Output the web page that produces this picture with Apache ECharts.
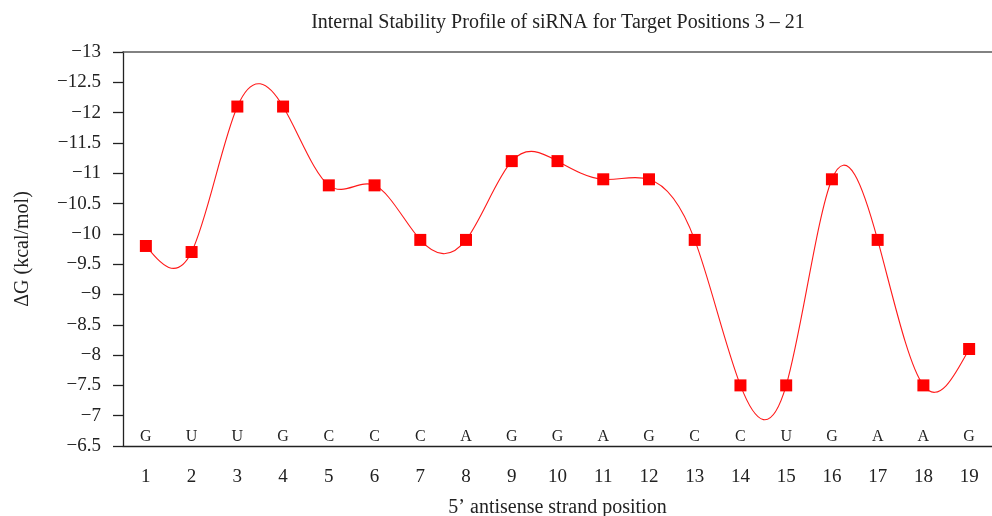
<!DOCTYPE html>
<html>
<head>
<meta charset="utf-8">
<script src="https://cdn.jsdelivr.net/npm/echarts@6/dist/echarts.min.js"></script>
<style>
  html, body { margin: 0; padding: 0; background: #fff; }
  #chart { width: 992px; height: 516px; }
</style>
</head>
<body>
<div id="chart"></div>
<script>
// Antisense strand positions 1..19 and their bases
const positions = ['1','2','3','4','5','6','7','8','9','10','11','12','13','14','15','16','17','18','19'];
const bases = ['G','U','U','G','C','C','C','A','G','G','A','G','C','C','U','G','A','A','G'];
// Free energy of each position (kcal/mol)
const deltaG = [-9.8, -9.7, -12.1, -12.1, -10.8, -10.8, -9.9, -9.9, -11.2, -11.2, -10.9, -10.9, -9.9, -7.5, -7.5, -10.9, -9.9, -7.5, -8.1];

const serif = '"Liberation Serif", "DejaVu Serif", serif';
const minus = v => String(v).replace('-', '\u2212');

// Slopes of a natural cubic spline through (i, y[i]) with unit spacing.
function splineSlopes(y) {
  const n = y.length - 1;
  const M = new Array(n + 1).fill(0);
  if (n >= 2) {
    // Thomas algorithm for M[i-1] + 4 M[i] + M[i+1] = 6 (y[i+1] - 2 y[i] + y[i-1])
    const c = new Array(n).fill(0), d = new Array(n).fill(0);
    for (let i = 1; i < n; i++) {
      const rhs = 6 * (y[i + 1] - 2 * y[i] + y[i - 1]);
      const denom = 4 - (i > 1 ? c[i - 1] : 0);
      c[i] = 1 / denom;
      d[i] = (rhs - (i > 1 ? d[i - 1] : 0)) / denom;
    }
    for (let i = n - 1; i >= 1; i--) {
      M[i] = d[i] - c[i] * (i < n - 1 ? M[i + 1] : 0);
    }
  }
  const m = [];
  for (let i = 0; i < n; i++) m.push((y[i + 1] - y[i]) - (2 * M[i] + M[i + 1]) / 6);
  m.push((y[n] - y[n - 1]) + (M[n - 1] + 2 * M[n]) / 6);
  return m;
}
const slopes = splineSlopes(deltaG);

const chart = echarts.init(document.getElementById('chart'), null, { renderer: 'canvas' });
chart.setOption({
  animation: false,
  backgroundColor: '#fff',
  title: {
    text: 'Internal Stability Profile of siRNA for Target Positions 3 \u2013 21',
    left: 553, top: 8, textAlign: 'center',
    textStyle: { fontFamily: serif, fontSize: 20, fontWeight: 'normal', color: '#222' }
  },
  grid: { left: 123, right: 0, top: 52, bottom: 70, containLabel: false, outerBoundsMode: 'none' },
  xAxis: [
    {
      type: 'category', data: positions, boundaryGap: true, position: 'bottom',
      name: '5\u2019 antisense strand position', nameLocation: 'middle', nameGap: 52,
      nameTextStyle: { fontFamily: serif, fontSize: 20, color: '#222' },
      axisLine: { lineStyle: { color: '#222', width: 1.3 } },
      axisTick: { alignWithLabel: true, length: 10, lineStyle: { color: '#222', width: 1.3 } },
      axisLabel: { fontFamily: serif, fontSize: 19, color: '#222', margin: 22, interval: 0 },
      splitLine: { show: false }
    },
    {
      // base letters sitting just above the bottom axis
      type: 'category', data: bases, boundaryGap: true, position: 'bottom',
      axisLine: { show: false }, axisTick: { show: false },
      axisLabel: { inside: true, fontFamily: serif, fontSize: 16, color: '#222', margin: 1, interval: 0 },
      splitLine: { show: false }
    },
    {
      // frame line along the top of the plot
      type: 'category', data: positions, boundaryGap: true, position: 'top',
      axisLine: { lineStyle: { color: '#5a5a5a', width: 1.5 } },
      axisTick: { show: false }, axisLabel: { show: false }, splitLine: { show: false }
    }
  ],
  yAxis: {
    type: 'value', min: -13, max: -6.5, interval: 0.5, inverse: true,
    name: '\u0394G (kcal/mol)', nameLocation: 'middle', nameGap: 90, nameRotate: 90,
    nameTextStyle: { fontFamily: serif, fontSize: 20, color: '#222' },
    axisLine: { show: true, lineStyle: { color: '#222', width: 1.3 } },
    axisTick: { show: true, length: 10, lineStyle: { color: '#222', width: 1.3 } },
    axisLabel: { fontFamily: serif, fontSize: 19, color: '#222', margin: 22, formatter: minus },
    splitLine: { show: false }
  },
  series: [
    {
      // spline through the points, one cubic Bezier per interval
      type: 'custom', xAxisIndex: 0, yAxisIndex: 0,
      data: deltaG.map((v, i) => [i, v]),
      z: 2, silent: true,
      renderItem: (params, api) => {
        const i = params.dataIndex;
        if (i >= deltaG.length - 1) return null;
        const y0 = deltaG[i], y1 = deltaG[i + 1];
        const p0 = api.coord([i, y0]);
        const p1 = api.coord([i + 1, y1]);
        const dx = (p1[0] - p0[0]) / 3;
        const cy0 = api.coord([i, y0 + slopes[i] / 3])[1];
        const cy1 = api.coord([i + 1, y1 - slopes[i + 1] / 3])[1];
        return {
          type: 'bezierCurve',
          shape: { x1: p0[0], y1: p0[1], x2: p1[0], y2: p1[1], cpx1: p0[0] + dx, cpy1: cy0, cpx2: p1[0] - dx, cpy2: cy1 },
          style: { stroke: '#ff1a1a', lineWidth: 1.1, fill: null }
        };
      }
    },
    {
      type: 'line', xAxisIndex: 0, data: deltaG,
      symbol: 'rect', symbolSize: 12,
      lineStyle: { width: 0 },
      itemStyle: { color: '#ff0000' },
      z: 3
    }
  ]
});
</script>
</body>
</html>
